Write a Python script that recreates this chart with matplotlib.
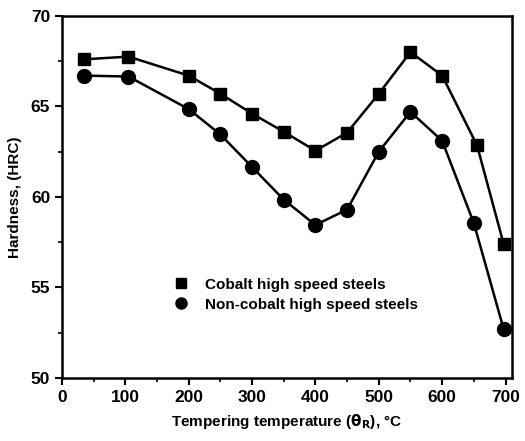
import matplotlib
matplotlib.use("Agg")
from matplotlib import pyplot as plt
from matplotlib.ticker import MultipleLocator
from matplotlib.lines import Line2D

temp_cobalt = [35, 105, 200, 250, 300, 350, 400, 450, 500, 550, 600, 655, 697]
hard_cobalt = [67.6, 67.75, 66.7, 65.7, 64.6, 63.6, 62.55, 63.55, 65.7, 68.0, 66.7, 62.85, 57.4]
temp_noncobalt = [35, 105, 200, 250, 300, 350, 400, 450, 500, 550, 600, 650, 697]
hard_noncobalt = [66.7, 66.65, 64.85, 63.45, 61.65, 59.85, 58.45, 59.3, 62.5, 64.7, 63.1, 58.55, 52.7]

plt.rcParams["font.family"] = ["Liberation Sans", "DejaVu Sans"]
plt.rcParams["font.weight"] = "bold"

fig = plt.figure(figsize=(5.25, 4.41), dpi=100)
ax = fig.add_axes([0.118, 0.143, 0.857, 0.821])

ax.plot(temp_cobalt, hard_cobalt, "k-", lw=1.8, marker="s", ms=9)
ax.plot(temp_noncobalt, hard_noncobalt, "k-", lw=1.8, marker="o", ms=10)

ax.set_xlim(0, 710)
ax.set_ylim(50, 70)
ax.xaxis.set_major_locator(MultipleLocator(100))
ax.xaxis.set_minor_locator(MultipleLocator(50))
ax.yaxis.set_major_locator(MultipleLocator(5))
ax.yaxis.set_minor_locator(MultipleLocator(2.5))
ax.tick_params(which="major", direction="out", length=5, width=1.5, labelsize=12.5)
ax.tick_params(which="minor", direction="out", length=3, width=1.2)
for s in ax.spines.values():
    s.set_linewidth(1.8)

ax.set_xlabel(r"Tempering temperature ($\mathbf{\theta_R}$), °C", fontsize=11, fontweight="bold", labelpad=5)
ax.set_ylabel("Hardness, (HRC)", fontsize=11, fontweight="bold", labelpad=6)

handles = [
    Line2D([], [], color="k", marker="s", ls="none", ms=7),
    Line2D([], [], color="k", marker="o", ms=8, ls="none"),
]
ax.legend(handles, ["Cobalt high speed steels", "Non-cobalt high speed steels"],
          loc="upper left", bbox_to_anchor=(0.2, 0.315), frameon=False,
          prop={"size": 11, "weight": "bold"}, handletextpad=0.6, labelspacing=0.4)

fig.savefig("out.png", dpi=100)
